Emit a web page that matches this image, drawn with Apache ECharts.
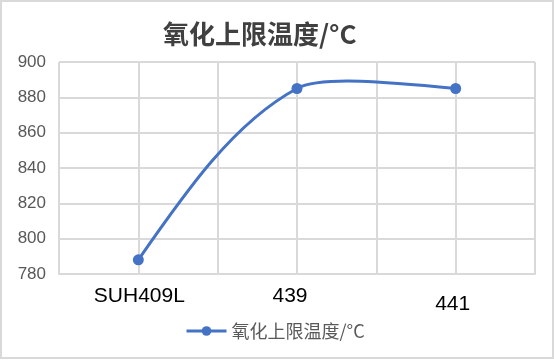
<!DOCTYPE html>
<html>
<head>
<meta charset="utf-8">
<script src="https://cdn.jsdelivr.net/npm/echarts@6/dist/echarts.min.js"></script>
<style>
html,body{margin:0;padding:0;background:#fff;}
#c{width:554px;height:360px;}
</style>
</head>
<body>
<div id="c"></div>
<script>
const titleText = '氧化上限温度/°C';
const seriesName = '氧化上限温度/°C';
const categories = ['SUH409L', '439', '441'];
const values = [788, 885, 885];
const yMin = 780, yMax = 900, yStep = 20;
const halfSteps = ['', '', '', '', '', ''];

const LINE_COLOR = '#4472C4';
const TENSION_IN = 0.2, TENSION_OUT = 0.075, END_PULL = 0.5;

function ctrlPoints(pts, i) {
  const p = pts[i];
  if (i === 0 || i === pts.length - 1) return [p, p];
  const prev = pts[i - 1], next = pts[i + 1];
  const dx = next[0] - prev[0], dy = next[1] - prev[1];
  return [[p[0] - dx * TENSION_IN, p[1] - dy * TENSION_IN],
          [p[0] + dx * TENSION_OUT, p[1] + dy * TENSION_OUT]];
}

function renderCurve(params, api) {
  const i = params.dataIndex;
  if (i >= values.length - 1) return null;
  const pts = values.map((v, k) => api.coord([k, v]));
  const a = pts[i], b = pts[i + 1];
  let c1 = ctrlPoints(pts, i)[1];
  let c2 = ctrlPoints(pts, i + 1)[0];
  if (i === 0) {
    c1 = [a[0] + (c2[0] - a[0]) * END_PULL, a[1] + (c2[1] - a[1]) * END_PULL];
  }
  if (i + 1 === values.length - 1) {
    c2 = [b[0] + (c1[0] - b[0]) * END_PULL, b[1] + (c1[1] - b[1]) * END_PULL];
  }
  return {
    type: 'bezierCurve',
    shape: {x1: a[0], y1: a[1], x2: b[0], y2: b[1],
            cpx1: c1[0], cpy1: c1[1], cpx2: c2[0], cpy2: c2[1]},
    style: {stroke: LINE_COLOR, lineWidth: 3, fill: null, lineCap: 'round'}
  };
}

const labelRich = {
  l0: {fontSize: 21, color: '#000', fontFamily: 'Liberation Sans', padding: [0, 0, 0, 2]},
  l1: {fontSize: 21, color: '#000', fontFamily: 'Liberation Sans', padding: [0, 14, 2, 0]},
  l2: {fontSize: 21, color: '#000', fontFamily: 'Liberation Sans', padding: [8, 6, 0, 0]}
};

const chart = echarts.init(document.getElementById('c'));
chart.setOption({
  backgroundColor: '#fff',
  animation: false,
  title: {
    text: titleText, left: 158, top: 16,
    textStyle: {fontSize: 26, fontWeight: 'bold', color: '#404040', fontFamily: 'Noto Sans CJK SC'}
  },
  legend: {
    bottom: 20, left: 185, padding: 0,
    itemWidth: 40, itemHeight: 12, itemGap: 6,
    textStyle: {fontSize: 18, color: '#595959', fontFamily: 'Noto Sans CJK SC'},
    lineStyle: {color: LINE_COLOR, width: 3, opacity: 1},
    data: [seriesName]
  },
  grid: {left: 59, right: 19, top: 62, bottom: 86},
  xAxis: [{
    type: 'category', data: categories, boundaryGap: true,
    axisLine: {show: true, lineStyle: {color: '#d9d9d9', width: 2}},
    axisTick: {show: false},
    splitLine: {show: false},
    axisLabel: {
      margin: 12,
      formatter: (v, idx) => '{l' + idx + '|' + v + '}',
      rich: labelRich
    }
  }, {
    type: 'category', data: halfSteps, boundaryGap: true, position: 'bottom',
    axisLine: {show: false}, axisTick: {show: false}, axisLabel: {show: false},
    splitLine: {show: true, lineStyle: {color: '#d9d9d9', width: 2}}
  }],
  yAxis: {
    type: 'value', min: yMin, max: yMax, interval: yStep,
    axisLine: {show: false}, axisTick: {show: false},
    splitLine: {show: true, lineStyle: {color: '#d9d9d9', width: 2}},
    axisLabel: {fontSize: 17, color: '#595959', margin: 13, fontFamily: 'Liberation Sans'}
  },
  graphic: [{
    type: 'rect', shape: {x: 1, y: 1, width: 552, height: 357},
    style: {fill: 'none', stroke: '#d9d9d9', lineWidth: 2}, silent: true, z: 100
  }],
  series: [{
    type: 'custom', name: 'curve', xAxisIndex: 0, z: 2,
    data: values.map((v, i) => [i, v]),
    renderItem: renderCurve, silent: true
  }, {
    name: seriesName, type: 'line', data: values, xAxisIndex: 0, z: 3,
    symbol: 'circle', symbolSize: 11,
    lineStyle: {color: LINE_COLOR, width: 3, opacity: 0},
    itemStyle: {color: LINE_COLOR}
  }]
});
</script>
</body>
</html>
